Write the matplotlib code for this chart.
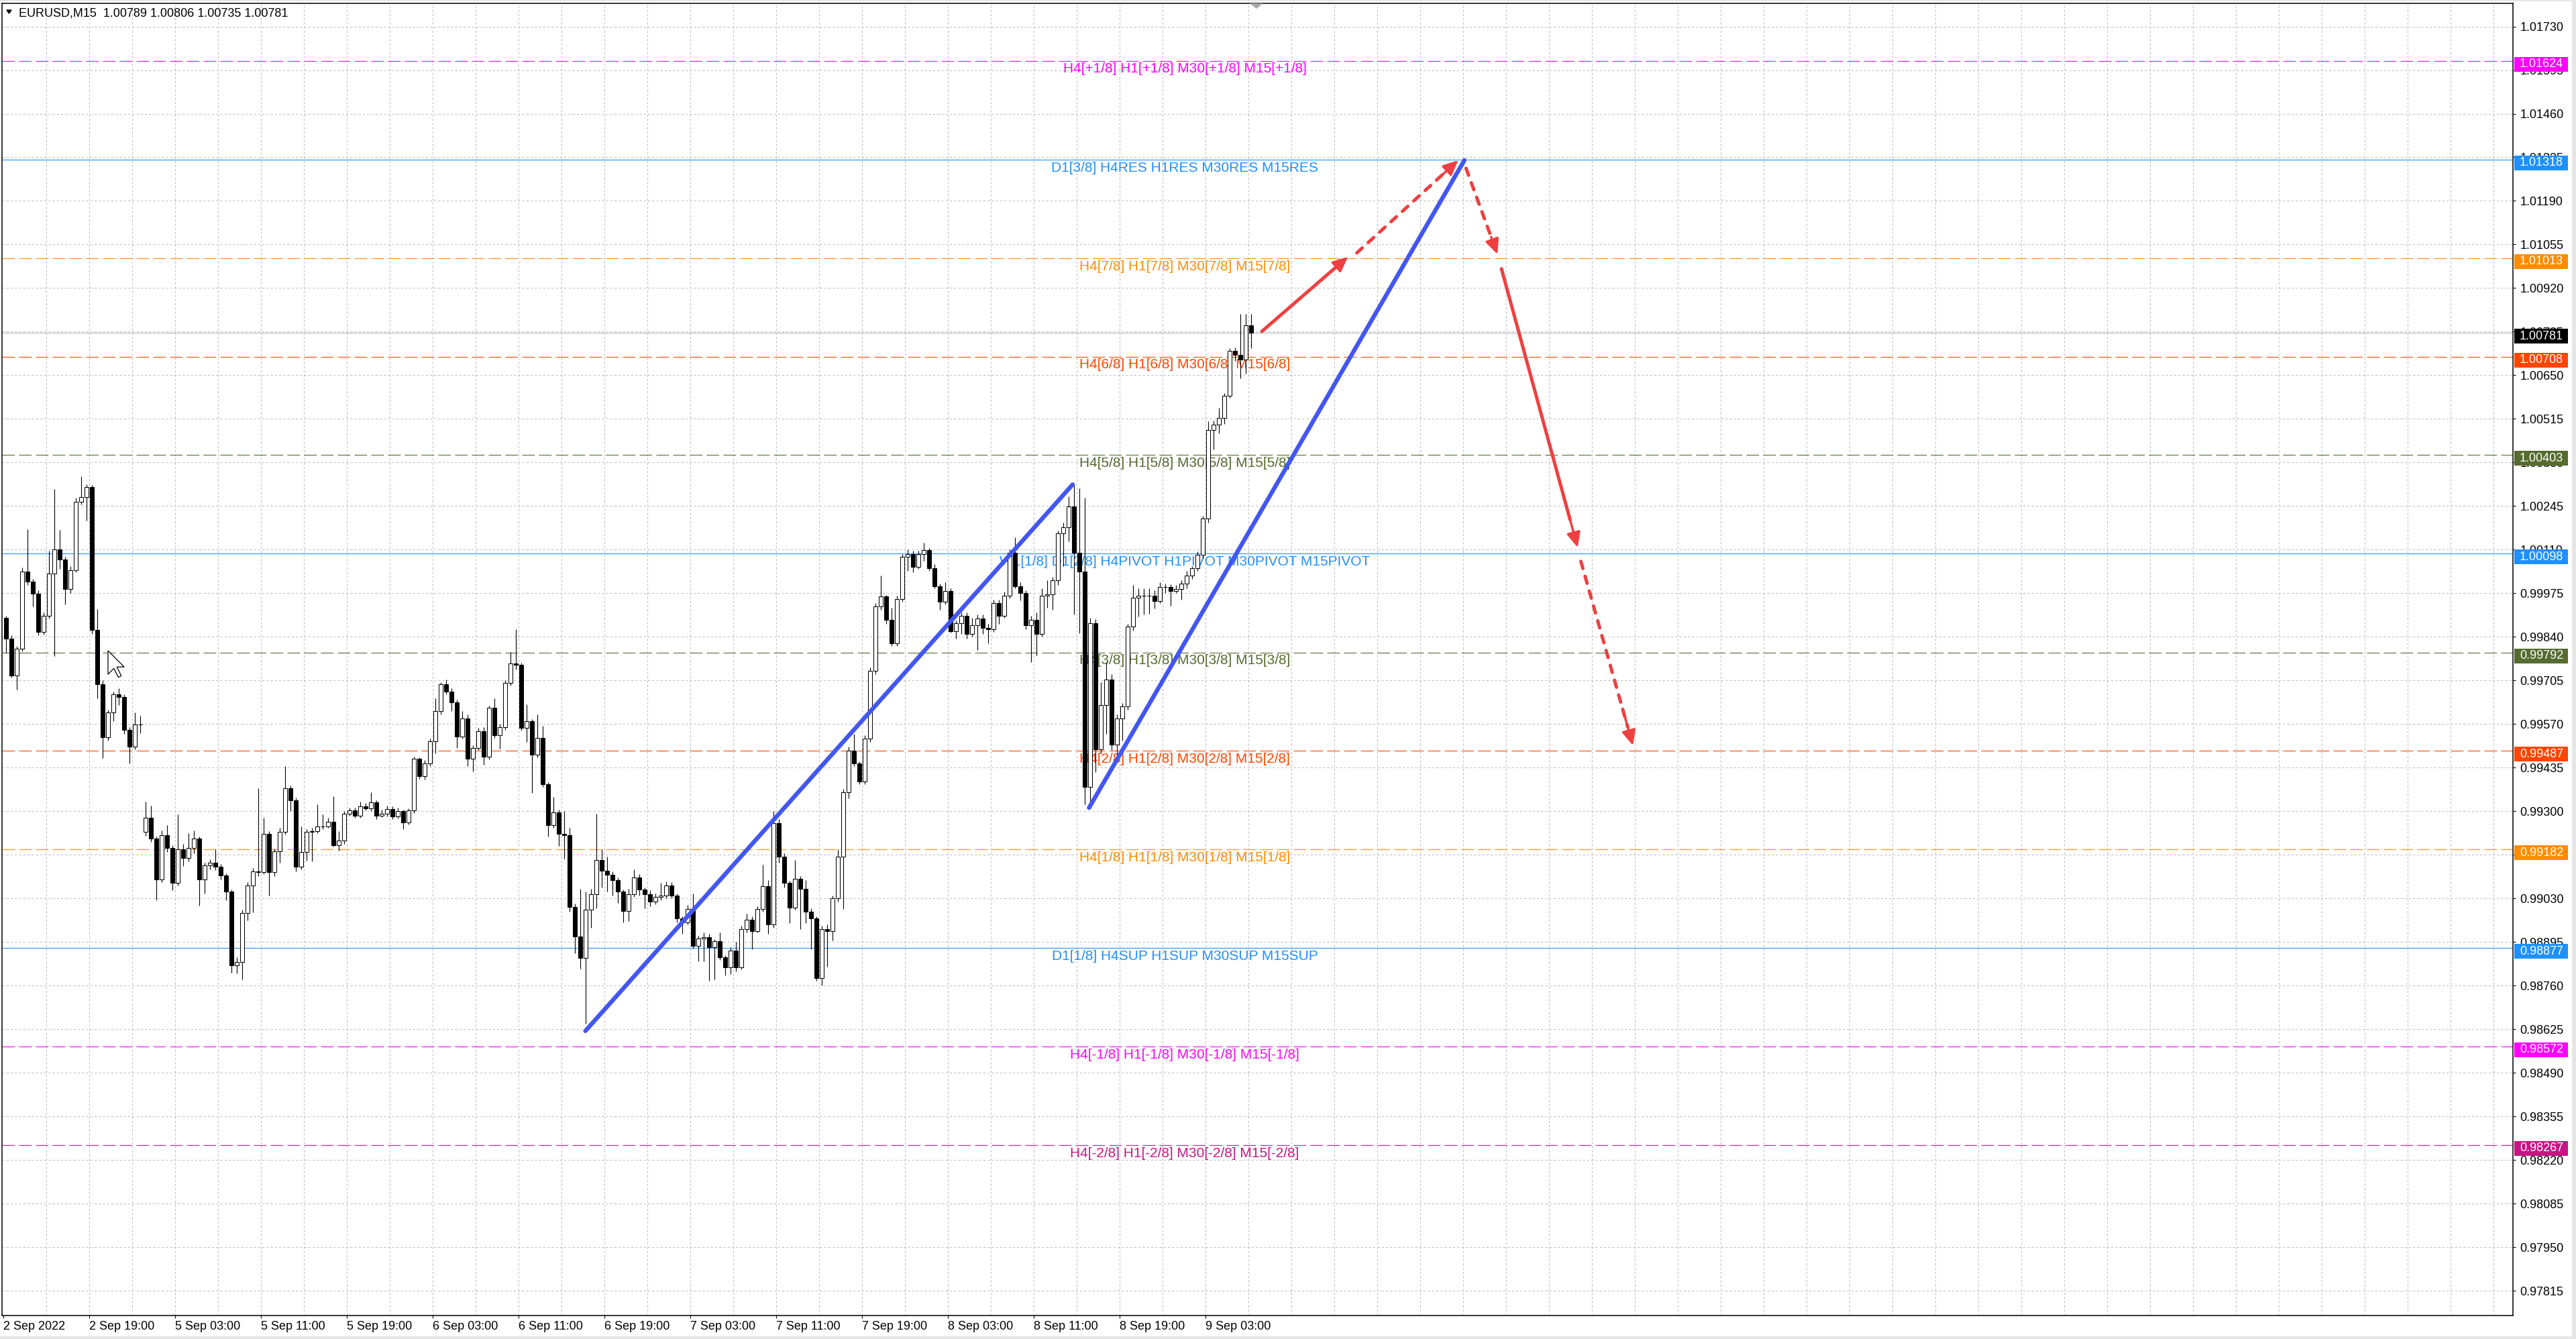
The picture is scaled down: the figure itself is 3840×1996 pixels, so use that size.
import matplotlib
matplotlib.use("Agg")
import matplotlib.pyplot as plt
from matplotlib import font_manager as fm
from matplotlib.patches import Rectangle, Polygon, FancyArrowPatch
from matplotlib.transforms import blended_transform_factory
import numpy as np

# ------------------------------------------------------------------
# EURUSD M15 chart, 2 Sep 11:00 -> 9 Sep 07:45, drawn as 30-minute candles
# (one candle = two M15 bars, x axis counts M15 bars)

closes = [
    0.99834, 0.99720, 0.99804, 1.00043, 1.00011, 0.99974, 0.99856, 0.99905, 1.00036, 1.00112,
    1.00079, 0.99989, 1.00046, 1.00259, 1.00272, 1.00304, 0.99862, 0.99693, 0.99530, 0.99606,
    0.99663, 0.99655, 0.99552, 0.99500, 0.99568, 0.99568, 0.99280, 0.99215, 0.99090, 0.99226,
    0.99187, 0.99079, 0.99182, 0.99155, 0.99187, 0.99215, 0.99090, 0.99133, 0.99141, 0.99128,
    0.99101, 0.99052, 0.98823, 0.98834, 0.98986, 0.99071, 0.99115, 0.99111, 0.99231, 0.99111,
    0.99177, 0.99236, 0.99372, 0.99334, 0.99128, 0.99174, 0.99237, 0.99238, 0.99253, 0.99253,
    0.99268, 0.99196, 0.99209, 0.99292, 0.99302, 0.99287, 0.99315, 0.99310, 0.99328, 0.99287,
    0.99292, 0.99307, 0.99284, 0.99300, 0.99266, 0.99302, 0.99462, 0.99409, 0.99449, 0.99516,
    0.99610, 0.99693, 0.99671, 0.99638, 0.99531, 0.99588, 0.99462, 0.99497, 0.99549, 0.99469,
    0.99620, 0.99536, 0.99560, 0.99697, 0.99758, 0.99754, 0.99559, 0.99579, 0.99475, 0.99527,
    0.99383, 0.99257, 0.99296, 0.99231, 0.99226, 0.99004, 0.98913, 0.98847, 0.98996, 0.99044,
    0.99150, 0.99117, 0.99104, 0.99087, 0.99052, 0.98991, 0.99044, 0.99096, 0.99057, 0.99044,
    0.99020, 0.99035, 0.99040, 0.99070, 0.99040, 0.98969, 0.98956, 0.98997, 0.98883, 0.98907,
    0.98911, 0.98880, 0.98897, 0.98849, 0.98816, 0.98869, 0.98816, 0.98935, 0.98964, 0.98930,
    0.98997, 0.99068, 0.98949, 0.99263, 0.99159, 0.99078, 0.99002, 0.99092, 0.99059, 0.98990,
    0.98968, 0.98783, 0.98935, 0.98930, 0.99030, 0.99159, 0.99359, 0.99487, 0.99449, 0.99392,
    0.99525, 0.99734, 0.99934, 0.99965, 0.99892, 0.99820, 0.99958, 1.00088, 1.00096, 1.00058,
    1.00096, 1.00108, 1.00053, 0.99996, 0.99949, 0.99982, 0.99858, 0.99882, 0.99906, 0.99849,
    0.99877, 0.99897, 0.99868, 0.99863, 0.99944, 0.99906, 0.99968, 1.00101, 0.99996, 0.99977,
    0.99877, 0.99892, 0.99849, 0.99968, 0.99972, 1.00015, 1.00160, 1.00180, 1.00243, 1.00100,
    1.00042, 0.99375, 0.99883, 0.99491, 0.99629, 0.99708, 0.99507, 0.99587, 0.99624, 0.99872,
    0.99962, 0.99968, 0.99968, 0.99968, 0.99952, 0.99994, 0.99994, 0.99983, 0.99988, 1.00005,
    1.00031, 1.00052, 1.00095, 1.00206, 1.00481, 1.00497, 1.00518, 1.00587, 1.00725, 1.00714,
    1.00698, 1.00804, 1.00781,
]

highs = [
    0.99905, 0.99845, 0.99812, 1.00055, 1.00174, 1.00020, 0.99985, 0.99915, 1.00106, 1.00297,
    1.00172, 1.00088, 1.00060, 1.00270, 1.00337, 1.00312, 1.00310, 0.99927, 0.99705, 0.99615,
    0.99671, 0.99682, 0.99662, 0.99560, 0.99606, 0.99595, 0.99329, 0.99318, 0.99222, 0.99240,
    0.99258, 0.99195, 0.99291, 0.99200, 0.99232, 0.99240, 0.99222, 0.99140, 0.99152, 0.99182,
    0.99136, 0.99108, 0.99058, 0.98848, 0.98995, 0.99080, 0.99125, 0.99372, 0.99280, 0.99238,
    0.99185, 0.99248, 0.99441, 0.99380, 0.99342, 0.99253, 0.99245, 0.99250, 0.99322, 0.99290,
    0.99280, 0.99346, 0.99238, 0.99300, 0.99312, 0.99312, 0.99330, 0.99325, 0.99359, 0.99335,
    0.99305, 0.99318, 0.99315, 0.99312, 0.99305, 0.99310, 0.99470, 0.99468, 0.99458, 0.99525,
    0.99650, 0.99699, 0.99707, 0.99680, 0.99645, 0.99610, 0.99600, 0.99505, 0.99558, 0.99560,
    0.99628, 0.99649, 0.99570, 0.99705, 0.99793, 0.99863, 0.99760, 0.99632, 0.99585, 0.99601,
    0.99565, 0.99390, 0.99345, 0.99305, 0.99300, 0.99250, 0.99015, 0.99061, 0.99052, 0.99060,
    0.99292, 0.99183, 0.99160, 0.99115, 0.99095, 0.99058, 0.99060, 0.99120, 0.99105, 0.99065,
    0.99055, 0.99045, 0.99078, 0.99083, 0.99080, 0.99045, 0.98975, 0.99010, 0.99045, 0.98915,
    0.98925, 0.98920, 0.98905, 0.98926, 0.98855, 0.98880, 0.98895, 0.98945, 0.98983, 0.98975,
    0.99005, 0.99135, 0.99087, 0.99301, 0.99275, 0.99170, 0.99085, 0.99149, 0.99100, 0.99087,
    0.99000, 0.98975, 0.98945, 0.98950, 0.99040, 0.99183, 0.99370, 0.99500, 0.99539, 0.99455,
    0.99535, 0.99745, 0.99945, 1.00029, 0.99970, 0.99930, 0.99968, 1.00096, 1.00110, 1.00106,
    1.00106, 1.00132, 1.00115, 1.00065, 1.00005, 1.00010, 0.99990, 0.99890, 0.99915, 0.99915,
    0.99900, 0.99910, 0.99910, 0.99880, 0.99955, 0.99955, 0.99980, 1.00110, 1.00148, 1.00010,
    0.99985, 0.99905, 0.99915, 0.99990, 1.00015, 1.00025, 1.00170, 1.00195, 1.00275, 1.00312,
    1.00301, 1.00270, 0.99899, 0.99895, 0.99700, 0.99761, 0.99725, 0.99600, 0.99635, 0.99880,
    1.00000, 0.99990, 0.99990, 0.99990, 0.99985, 1.00010, 1.00005, 1.00003, 1.00000, 1.00015,
    1.00045, 1.00060, 1.00105, 1.00215, 1.00508, 1.00510, 1.00550, 1.00595, 1.00735, 1.00737,
    1.00841, 1.00841, 1.00841,
]

lows = [
    0.99791, 0.99715, 0.99677, 0.99795, 1.00000, 0.99935, 0.99845, 0.99848, 0.99898, 0.99780,
    1.00050, 0.99940, 0.99975, 1.00040, 1.00250, 1.00200, 0.99850, 0.99650, 0.99465, 0.99520,
    0.99580, 0.99630, 0.99540, 0.99449, 0.99492, 0.99541, 0.99225, 0.99205, 0.99024, 0.99080,
    0.99175, 0.99055, 0.99070, 0.99130, 0.99145, 0.99170, 0.99008, 0.99045, 0.99120, 0.99118,
    0.99090, 0.99025, 0.98801, 0.98798, 0.98780, 0.98962, 0.98988, 0.99100, 0.99105, 0.99040,
    0.99100, 0.99140, 0.99228, 0.99300, 0.99115, 0.99120, 0.99148, 0.99145, 0.99232, 0.99245,
    0.99248, 0.99190, 0.99179, 0.99200, 0.99286, 0.99280, 0.99280, 0.99303, 0.99300, 0.99275,
    0.99282, 0.99285, 0.99275, 0.99278, 0.99245, 0.99260, 0.99295, 0.99400, 0.99398, 0.99440,
    0.99480, 0.99600, 0.99662, 0.99610, 0.99497, 0.99525, 0.99440, 0.99423, 0.99490, 0.99444,
    0.99460, 0.99528, 0.99495, 0.99552, 0.99690, 0.99740, 0.99550, 0.99514, 0.99357, 0.99468,
    0.99375, 0.99222, 0.99250, 0.99192, 0.99153, 0.98990, 0.98860, 0.98813, 0.98643, 0.98940,
    0.99000, 0.99065, 0.99052, 0.99040, 0.99017, 0.98956, 0.98960, 0.99035, 0.99040, 0.99000,
    0.99005, 0.99012, 0.99025, 0.99030, 0.99030, 0.98956, 0.98920, 0.98950, 0.98875, 0.98835,
    0.98835, 0.98775, 0.98780, 0.98840, 0.98792, 0.98797, 0.98805, 0.98810, 0.98925, 0.98873,
    0.98925, 0.98990, 0.98920, 0.98940, 0.99140, 0.99065, 0.98955, 0.98995, 0.98935, 0.98955,
    0.98873, 0.98775, 0.98760, 0.98820, 0.98900, 0.99020, 0.98997, 0.99340, 0.99440, 0.99383,
    0.99385, 0.99515, 0.99725, 0.99925, 0.99880, 0.99812, 0.99812, 0.99950, 1.00045, 1.00040,
    1.00050, 1.00075, 1.00045, 0.99990, 0.99925, 0.99940, 0.99853, 0.99835, 0.99849, 0.99835,
    0.99840, 0.99800, 0.99849, 0.99820, 0.99855, 0.99880, 0.99900, 0.99960, 0.99990, 0.99953,
    0.99863, 0.99763, 0.99782, 0.99840, 0.99930, 0.99925, 1.00000, 1.00060, 1.00135, 0.99909,
    0.99851, 0.99322, 0.99317, 0.99422, 0.99480, 0.99540, 0.99490, 0.99468, 0.99520, 0.99615,
    0.99860, 0.99904, 0.99909, 0.99912, 0.99928, 0.99945, 0.99975, 0.99936, 0.99975, 0.99955,
    0.99990, 1.00020, 1.00045, 1.00085, 1.00195, 1.00420, 1.00471, 1.00500, 1.00580, 1.00695,
    1.00640, 1.00656, 1.00735,
]

# candles whose open is not the previous close (first candle, Monday open after the weekend gap)
session_opens = {0: 0.99899, 26: 0.99236}

# Murrey-math style levels: price, line colour, dashed?, caption
levels = [
    (1.01624, "#FF00FF", True, "H4[+1/8] H1[+1/8] M30[+1/8] M15[+1/8]"),
    (1.01318, "#1E90FF", False, "D1[3/8] H4RES H1RES M30RES M15RES"),
    (1.01013, "#FF8C00", True, "H4[7/8] H1[7/8] M30[7/8] M15[7/8]"),
    (1.00708, "#FF4500", True, "H4[6/8] H1[6/8] M30[6/8] M15[6/8]"),
    (1.00403, "#556B2F", True, "H4[5/8] H1[5/8] M30[5/8] M15[5/8]"),
    (1.00098, "#1E90FF", False, "W1[1/8] D1[2/8] H4PIVOT H1PIVOT M30PIVOT M15PIVOT"),
    (0.99792, "#556B2F", True, "H4[3/8] H1[3/8] M30[3/8] M15[3/8]"),
    (0.99487, "#FF4500", True, "H4[2/8] H1[2/8] M30[2/8] M15[2/8]"),
    (0.99182, "#FF8C00", True, "H4[1/8] H1[1/8] M30[1/8] M15[1/8]"),
    (0.98877, "#1E90FF", False, "D1[1/8] H4SUP H1SUP M30SUP M15SUP"),
    (0.98572, "#FF00FF", True, "H4[-1/8] H1[-1/8] M30[-1/8] M15[-1/8]"),
    (0.98267, "#C71585", True, "H4[-2/8] H1[-2/8] M30[-2/8] M15[-2/8]"),
]
level_caption_x = 439.75

last_price = 1.00781
title = "EURUSD,M15  1.00789 1.00806 1.00735 1.00781"

y_ticks = [0.97815 + 0.00135 * k for k in range(30)]
x_tick_bars = [32 * k for k in range(15)]
x_tick_labels = ["2 Sep 2022", "2 Sep 19:00", "5 Sep 03:00", "5 Sep 11:00", "5 Sep 19:00",
                 "6 Sep 03:00", "6 Sep 11:00", "6 Sep 19:00", "7 Sep 03:00", "7 Sep 11:00",
                 "7 Sep 19:00", "8 Sep 03:00", "8 Sep 11:00", "8 Sep 19:00", "9 Sep 03:00"]

# hand drawn objects: (bar, price) anchors
trend_lines = [((216.4, 0.98620), (398.0, 1.00312)),
               ((404.1, 0.99311), (544.0, 1.01316))]
red_arrows = [((468.5, 1.00786), (500.6, 1.01017), False),
              ((503.9, 1.01029), (541.7, 1.01316), True),
              ((544.6, 1.01291), (556.3, 1.01025), True),
              ((557.8, 1.00980), (586.2, 1.00117), False),
              ((587.4, 1.00074), (606.8, 0.99504), True)]

# ------------------------------------------------------------------
W, H = 3840, 1996
PX = 100.0  # dpi
PX_PER_PRICE = 48146.0  # vertical pixels per 1.0 of price


def has_font(name):
    try:
        fm.findfont(fm.FontProperties(family=name), fallback_to_default=False)
        return True
    except Exception:
        return False


if has_font("Liberation Sans Narrow"):
    axis_font, axis_size = "Liberation Sans Narrow", 15.5
else:
    axis_font, axis_size = "Liberation Sans", 13
text_font = "Liberation Sans" if has_font("Liberation Sans") else "DejaVu Sans"

plt.rcParams['font.family'] = [text_font, "DejaVu Sans"]

fig = plt.figure(figsize=(W / PX, H / PX), dpi=PX)
fig.patch.set_facecolor("white")
ax = fig.add_axes([3 / W, 35 / H, 3743 / W, (1961 - 4.7) / H])
ax.set_facecolor("white")
ax.set_xlim(-1, 934.75)
ax.set_ylim(0.977390, 1.018023)

# grid
for t in y_ticks:
    ax.axhline(t, color="#bdbdbd", lw=0.75, ls=(0, (3, 3)), zorder=1)
for k in range(1, 59):
    ax.axvline(16 * k - 0.5, color="#bdbdbd", lw=0.75, ls=(0, (3, 3)), zorder=1)

# levels and captions
for p, col, dashed, cap in levels:
    ax.axhline(p, color=col, lw=0.9, ls=(0, (15, 5)) if dashed else "-", alpha=0.9, zorder=2)
    ax.text(level_caption_x, p - 0.00006, cap, color=col, ha="center", va="top",
            fontsize=15, family=text_font, zorder=3)
ax.axhline(last_price, color="#b4b4b4", lw=0.8, zorder=2)

# candles
opens = [session_opens.get(j, closes[j - 1] if j else None) for j in range(len(closes))]
o = np.array(opens, dtype=float)
c = np.array(closes)
xs = np.arange(len(closes)) * 2 + 0.5
ax.vlines(xs, lows, highs, color="black", lw=0.8, zorder=4)
ax.bar(xs, c - o, bottom=o, width=1.4,
       color=["white" if cc >= oo else "black" for oo, cc in zip(o, c)],
       edgecolor="black", linewidth=0.75, zorder=5)

# trend lines and arrows
blue = "#4256F2"
red = "#EE4040"
for (x0, y0), (x1, y1) in trend_lines:
    ax.plot([x0, x1], [y0, y1], color=blue, lw=4.6, solid_capstyle="round", zorder=6)
for (x0, y0), (x1, y1), dashed in red_arrows:
    # shaft stops a little before the tip, the head is drawn on its own
    f = 0.9
    xm, ym = x0 + (x1 - x0) * f, y0 + (y1 - y0) * f
    ax.plot([x0, xm], [y0, ym], color=red, lw=3.6,
            ls=(0, (2.2, 2.4)) if dashed else "-",
            solid_capstyle="round", dash_capstyle="round", zorder=7)
    head = FancyArrowPatch((x0 + (x1 - x0) * 0.8, y0 + (y1 - y0) * 0.8), (x1, y1),
                           arrowstyle="-|>,head_length=1.35,head_width=0.62",
                           mutation_scale=10, lw=2.5, color=red,
                           shrinkA=0, shrinkB=0, zorder=7)
    ax.add_patch(head)

# axes frame and ticks
for s in ax.spines.values():
    s.set_color("black")
    s.set_linewidth(1.1)
ax.yaxis.tick_right()
ax.set_yticks(y_ticks)
ax.set_yticklabels([f"{t:.5f}" for t in y_ticks], family=axis_font, fontsize=axis_size)
ax.set_xticks([b - 0.5 for b in x_tick_bars])
ax.set_xticklabels(x_tick_labels, family=axis_font, fontsize=axis_size)
for lbl in ax.get_xticklabels():
    lbl.set_ha("left")
ax.tick_params(axis="y", direction="out", length=3, width=0.8, pad=4.3, colors="black")
ax.tick_params(axis="x", direction="out", length=3, width=0.8, pad=3, colors="black")

# price boxes on the right scale (drawn a few pixels below their level, as in the terminal)
tr = blended_transform_factory(ax.transAxes, ax.transData)
box_h = 22 / PX_PER_PRICE
box_drop = 5 / PX_PER_PRICE
boxes = [(p, col) for p, col, _, _ in levels] + [(last_price, "black")]
for p, col in boxes:
    yc = p - box_drop
    ax.add_patch(Rectangle((1.00053, yc - box_h / 2), 0.02138, box_h, transform=tr,
                           facecolor=col, edgecolor="none", clip_on=False, zorder=10))
    ax.text(1.00267, yc, f"{p:.5f}", transform=tr, color="white", ha="left", va="center",
            family=axis_font, fontsize=axis_size, clip_on=False, zorder=11)


def fig_pts(pts):
    return [(x / W, 1 - y / H) for x, y in pts]


# title with the small menu triangle
fig.patches.append(Polygon(fig_pts([(10, 15), (17, 15), (13.5, 20)]), closed=True,
                           transform=fig.transFigure, facecolor="black", edgecolor="black"))
fig.text(28 / W, 1 - 20 / H, title, ha="left", va="center", fontsize=13,
         family=text_font, color="black")

# chart shift marker at the top
fig.patches.append(Polygon(fig_pts([(1863, 5), (1883, 5), (1873, 13)]), closed=True,
                           transform=fig.transFigure, facecolor="#a8a8a8", edgecolor="none"))

# mouse pointer left on the chart
cursor = [(0, 0), (0, 16), (4, 12), (7, 18), (9, 17), (6, 11), (11, 11)]
fig.patches.append(Polygon(fig_pts([(161 + 2.2 * a, 970 + 2.2 * b) for a, b in cursor]),
                           closed=True, transform=fig.transFigure, facecolor="white",
                           edgecolor="black", lw=0.9, zorder=20))

# thin window edges
for rx, ry, rw, rh in [(0, 0, W, 2), (W - 6, 0, 6, H), (0, H - 4, W, 4)]:
    fig.patches.append(Rectangle((rx / W, 1 - (ry + rh) / H), rw / W, rh / H,
                                 transform=fig.transFigure, facecolor="#e6e6e6",
                                 edgecolor="none"))

fig.savefig("out.png", dpi=PX, facecolor="white")
